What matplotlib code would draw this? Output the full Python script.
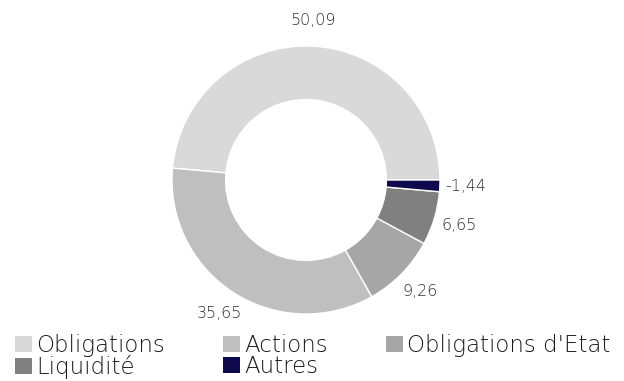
import matplotlib.pyplot as plt
from matplotlib.patches import Patch
import numpy as np

categories = ["Obligations", "Actions", "Obligations d'Etat", "Liquidité", "Autres"]
values = [50.09, 35.65, 9.26, 6.65, -1.44]
value_labels = ["50,09", "35,65", "9,26", "6,65", "-1,44"]
colors = ["#d9d9d9", "#bfbfbf", "#a6a6a6", "#808080", "#0f0a4d"]

plt.rcParams["font.family"] = ["DejaVu Sans"]

W, H = 624, 381
fig = plt.figure(figsize=(W / 100, H / 100), dpi=100)

# pie axes: centre of ring at (306, 180) px from top-left, outer radius 134 px
r_px = 134
cx, cy = 306, H - 180
half = 180
ax = fig.add_axes([(cx - half) / W, (cy - half) / H, 2 * half / W, 2 * half / H])

wedges, _ = ax.pie(
    np.abs(values), colors=colors, startangle=0, counterclock=True, radius=1,
    wedgeprops=dict(width=0.4, edgecolor="white", linewidth=1),
)
lim = half / r_px
ax.set_xlim(-lim, lim)
ax.set_ylim(-lim, lim)
ax.set_aspect("equal")
ax.axis("off")

for w, lab in zip(wedges, value_labels):
    mid = np.deg2rad((w.theta1 + w.theta2) / 2)
    d = 1.19
    ax.text(d * np.cos(mid), d * np.sin(mid), lab, ha="center", va="center",
            fontsize=11.5, fontweight="ultralight", color="#333333")

# legend filled column by column, so reorder to read row by row
order = [0, 3, 1, 4, 2]
handles = [Patch(facecolor=colors[i], edgecolor="none") for i in order]
labels = [categories[i] for i in order]
fig.legend(handles, labels, ncol=3, loc="upper left",
           bbox_to_anchor=(15 / W, 1 - 334 / H), frameon=False,
           prop=dict(size=16.5, weight="ultralight"), handlelength=0.74, handleheight=0.74,
           handletextpad=0.17, columnspacing=2.55, labelspacing=-0.08,
           borderpad=0, borderaxespad=0, labelcolor="#1a1a1a")

fig.savefig("out.png", dpi=100)
